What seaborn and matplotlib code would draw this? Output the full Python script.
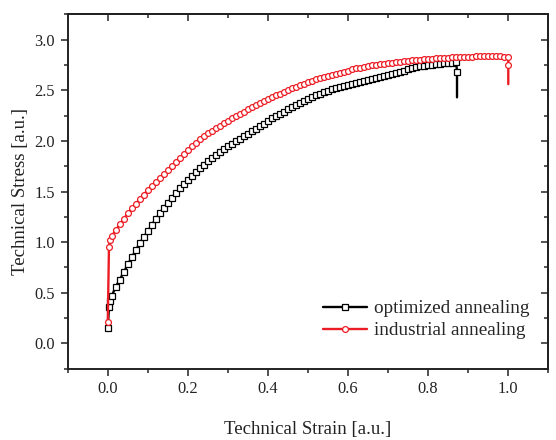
import matplotlib
matplotlib.use("Agg")
import matplotlib.pyplot as plt
import seaborn as sns
import numpy as np

# strain / stress
opt_strain = [0.0, 0.003, 0.006, 0.01, 0.02, 0.03, 0.04, 0.05, 0.06, 0.07, 0.08, 0.09,
              0.10, 0.11, 0.12, 0.13, 0.14, 0.15, 0.16, 0.17, 0.18, 0.19,
              0.20, 0.21, 0.22, 0.23, 0.24, 0.25, 0.26, 0.27, 0.28, 0.29,
              0.30, 0.31, 0.32, 0.33, 0.34, 0.35, 0.36, 0.37, 0.38, 0.39,
              0.40, 0.41, 0.42, 0.43, 0.44, 0.45, 0.46, 0.47, 0.48, 0.49,
              0.50, 0.51, 0.52, 0.53, 0.54, 0.55, 0.56, 0.57, 0.58, 0.59,
              0.60, 0.61, 0.62, 0.63, 0.64, 0.65, 0.66, 0.67, 0.68, 0.69,
              0.70, 0.71, 0.72, 0.73, 0.74, 0.75, 0.76, 0.77, 0.78, 0.79,
              0.80, 0.81, 0.82, 0.83, 0.84, 0.85, 0.86, 0.87, 0.872, 0.872]
opt_stress = [0.15, 0.36, 0.42, 0.47, 0.56, 0.63, 0.705, 0.78, 0.85, 0.92, 0.99, 1.05,
              1.11, 1.17, 1.23, 1.285, 1.34, 1.39, 1.44, 1.485, 1.53, 1.575,
              1.615, 1.655, 1.695, 1.73, 1.765, 1.80, 1.83, 1.86, 1.89, 1.92,
              1.945, 1.97, 1.995, 2.02, 2.045, 2.07, 2.095, 2.12, 2.145, 2.17,
              2.20, 2.225, 2.25, 2.27, 2.29, 2.31, 2.33, 2.35, 2.37, 2.39,
              2.41, 2.43, 2.45, 2.465, 2.48, 2.495, 2.51, 2.52, 2.53, 2.54,
              2.55, 2.56, 2.57, 2.58, 2.59, 2.60, 2.61, 2.62, 2.635, 2.645,
              2.655, 2.665, 2.675, 2.685, 2.695, 2.705, 2.715, 2.725, 2.735, 2.74,
              2.745, 2.75, 2.755, 2.76, 2.765, 2.77, 2.77, 2.775, 2.68, 2.43]

ind_strain = [0.0, 0.003, 0.006, 0.01, 0.02, 0.03, 0.04, 0.05, 0.06, 0.07, 0.08, 0.09,
              0.10, 0.11, 0.12, 0.13, 0.14, 0.15, 0.16, 0.17, 0.18, 0.19,
              0.20, 0.21, 0.22, 0.23, 0.24, 0.25, 0.26, 0.27, 0.28, 0.29,
              0.30, 0.31, 0.32, 0.33, 0.34, 0.35, 0.36, 0.37, 0.38, 0.39,
              0.40, 0.41, 0.42, 0.43, 0.44, 0.45, 0.46, 0.47, 0.48, 0.49,
              0.50, 0.51, 0.52, 0.53, 0.54, 0.55, 0.56, 0.57, 0.58, 0.59,
              0.60, 0.61, 0.62, 0.63, 0.64, 0.65, 0.66, 0.67, 0.68, 0.69,
              0.70, 0.71, 0.72, 0.73, 0.74, 0.75, 0.76, 0.77, 0.78, 0.79,
              0.80, 0.81, 0.82, 0.83, 0.84, 0.85, 0.86, 0.87, 0.88, 0.89,
              0.90, 0.91, 0.92, 0.93, 0.94, 0.95, 0.96, 0.97, 0.98, 0.99,
              1.00, 1.00, 1.00]
ind_stress = [0.21, 0.955, 1.02, 1.06, 1.12, 1.175, 1.23, 1.285, 1.335, 1.38, 1.425, 1.47,
              1.515, 1.555, 1.595, 1.635, 1.675, 1.715, 1.755, 1.795, 1.835, 1.875,
              1.91, 1.945, 1.98, 2.015, 2.045, 2.075, 2.10, 2.125, 2.15, 2.175,
              2.20, 2.225, 2.245, 2.265, 2.29, 2.31, 2.33, 2.35, 2.37, 2.39,
              2.41, 2.43, 2.45, 2.465, 2.485, 2.50, 2.52, 2.535, 2.55, 2.565,
              2.58, 2.595, 2.61, 2.62, 2.635, 2.645, 2.655, 2.665, 2.675, 2.685,
              2.695, 2.705, 2.715, 2.72, 2.73, 2.735, 2.745, 2.75, 2.755, 2.76,
              2.765, 2.77, 2.775, 2.78, 2.785, 2.79, 2.795, 2.80, 2.80, 2.805,
              2.81, 2.81, 2.815, 2.815, 2.82, 2.82, 2.825, 2.825, 2.83, 2.83,
              2.83, 2.83, 2.835, 2.835, 2.835, 2.835, 2.835, 2.835, 2.835, 2.83,
              2.825, 2.745, 2.56]

sns.set_style("ticks")
plt.rcParams["font.family"] = ["Liberation Serif", "DejaVu Serif"]

fig = plt.figure(figsize=(5.56, 4.40), dpi=100)
ax = fig.add_axes([0.1218, 0.162, 0.8644, 0.8055])

# markers on every point except the last one of each curve (the drop tail)
sns.lineplot(x=opt_strain, y=opt_stress, sort=False, estimator=None, ax=ax,
             color="black", lw=1.7, marker="s", markersize=3.8, markerfacecolor="white",
             markeredgecolor="black", markeredgewidth=0.9,
             markevery=list(range(len(opt_strain) - 1)), label="optimized annealing")
sns.lineplot(x=ind_strain, y=ind_stress, sort=False, estimator=None, ax=ax,
             color="#ec1c24", lw=1.7, marker="o", markersize=4.2, markerfacecolor="white",
             markeredgecolor="#ec1c24", markeredgewidth=0.9,
             markevery=list(range(len(ind_strain) - 1)), label="industrial annealing")

ax.set_xlim(-0.1, 1.1)
ax.set_ylim(-0.25, 3.25)
ax.set_xticks(np.arange(0, 1.01, 0.2))
ax.set_yticks(np.arange(0, 3.01, 0.5))
ax.xaxis.set_major_formatter(matplotlib.ticker.FormatStrFormatter("%.1f"))
ax.yaxis.set_major_formatter(matplotlib.ticker.FormatStrFormatter("%.1f"))
ax.xaxis.set_minor_locator(matplotlib.ticker.MultipleLocator(0.1))
ax.yaxis.set_minor_locator(matplotlib.ticker.MultipleLocator(0.25))
ax.tick_params(which="major", direction="out", length=5, width=1.1, labelsize=11.8,
               colors="#222222", pad=4)
ax.tick_params(which="minor", direction="out", length=3, width=1.1)
for sp in ax.spines.values():
    sp.set_linewidth(1.4)
    sp.set_color("#222222")

# inward ticks on top and right, no labels
top = ax.secondary_xaxis("top")
top.set_xticks(np.arange(0, 1.01, 0.2))
top.xaxis.set_minor_locator(matplotlib.ticker.MultipleLocator(0.1))
top.tick_params(which="both", direction="in", length=5, width=1.1, labeltop=False)
top.tick_params(which="minor", length=3)
right = ax.secondary_yaxis("right")
right.set_yticks(np.arange(0, 3.01, 0.5))
right.yaxis.set_minor_locator(matplotlib.ticker.MultipleLocator(0.25))
right.tick_params(which="both", direction="in", length=5, width=1.1, labelright=False)
right.tick_params(which="minor", length=3)
for s in (top, right):
    for sp in s.spines.values():
        sp.set_linewidth(1.4)

ax.set_xlabel("Technical Strain [a.u.]", fontsize=13.5, labelpad=17, color="#222222")
ax.set_ylabel("Technical Stress [a.u.]", fontsize=13.5, labelpad=4, color="#222222")

ax.legend(loc="lower right", bbox_to_anchor=(0.985, 0.05), frameon=False, fontsize=13.8,
          handlelength=2.3, handletextpad=0.35, labelspacing=0.25, borderaxespad=0.2)

fig.savefig("out.png", dpi=100)
